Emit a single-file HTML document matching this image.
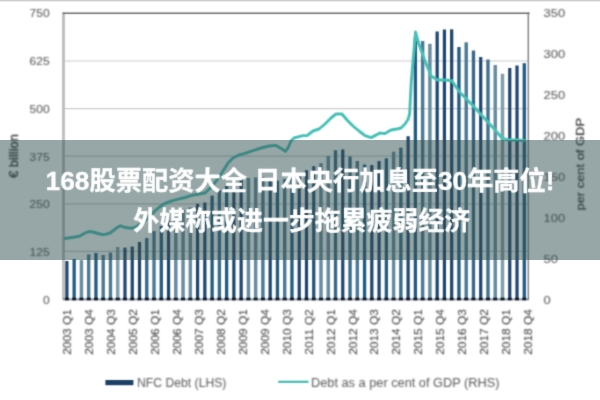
<!DOCTYPE html>
<html><head><meta charset="utf-8"><title>chart</title>
<style>
html,body{margin:0;padding:0;background:#fff;}
#wrap{position:relative;width:600px;height:400px;overflow:hidden;background:#fff;font-family:"Liberation Sans",sans-serif;}
#wrap svg{position:absolute;left:0;top:0;}
#banner{position:absolute;left:0;top:140px;width:600px;height:120px;background:rgba(47,79,79,0.5);}
</style></head><body>
<div id="wrap">
<svg width="600" height="400" viewBox="0 0 600 400">
<defs>
<filter id="b1" x="-5%" y="-5%" width="110%" height="110%" color-interpolation-filters="sRGB"><feConvolveMatrix order="5" kernelMatrix="0.00001 0.00042 0.00170 0.00042 0.00001 0.00042 0.02740 0.10988 0.02740 0.00042 0.00170 0.10988 0.44065 0.10988 0.00170 0.00042 0.02740 0.10988 0.02740 0.00042 0.00001 0.00042 0.00170 0.00042 0.00001" edgeMode="none" preserveAlpha="false"/></filter>
<filter id="b2" x="-5%" y="-5%" width="110%" height="110%" color-interpolation-filters="sRGB"><feConvolveMatrix order="5" kernelMatrix="0.00087 0.00695 0.01388 0.00695 0.00087 0.00695 0.05540 0.11068 0.05540 0.00695 0.01388 0.11068 0.22111 0.11068 0.01388 0.00695 0.05540 0.11068 0.05540 0.00695 0.00087 0.00695 0.01388 0.00695 0.00087" edgeMode="none" preserveAlpha="false"/></filter>
</defs>
<rect x="0" y="0" width="600" height="1.4" fill="#cdcdcd"/>
<g filter="url(#b1)"><line x1="64" x2="529" y1="251.4" y2="251.4" stroke="#cccccc" stroke-width="1.2"/><line x1="64" x2="529" y1="203.8" y2="203.8" stroke="#cccccc" stroke-width="1.2"/><line x1="64" x2="529" y1="156.2" y2="156.2" stroke="#cccccc" stroke-width="1.2"/><line x1="64" x2="529" y1="108.6" y2="108.6" stroke="#cccccc" stroke-width="1.2"/><line x1="64" x2="529" y1="61.0" y2="61.0" stroke="#cccccc" stroke-width="1.2"/><rect x="65.30" y="261.0" width="3.20" height="38.0" fill="#1e446e"/><rect x="72.51" y="259.0" width="3.30" height="40.0" fill="#215a80"/><rect x="79.70" y="260.0" width="3.45" height="39.0" fill="#668ba0"/><rect x="86.98" y="254.4" width="3.40" height="44.6" fill="#4b7893"/><rect x="94.29" y="253.0" width="3.30" height="46.0" fill="#215a80"/><rect x="101.50" y="255.0" width="3.40" height="44.0" fill="#4b7893"/><rect x="108.76" y="252.6" width="3.40" height="46.4" fill="#4b7893"/><rect x="115.97" y="247.0" width="3.50" height="52.0" fill="#829eac"/><rect x="123.38" y="247.6" width="3.20" height="51.4" fill="#1e446e"/><rect x="130.64" y="246.6" width="3.20" height="52.4" fill="#1e446e"/><rect x="137.90" y="242.0" width="3.20" height="57.0" fill="#1e446e"/><rect x="145.08" y="238.0" width="3.35" height="61.0" fill="#36698a"/><rect x="152.32" y="231.0" width="3.40" height="68.0" fill="#4b7893"/><rect x="159.63" y="226.0" width="3.30" height="73.0" fill="#215a80"/><rect x="166.94" y="221.0" width="3.20" height="78.0" fill="#1e446e"/><rect x="174.08" y="215.5" width="3.45" height="83.5" fill="#668ba0"/><rect x="181.34" y="209.5" width="3.45" height="89.5" fill="#668ba0"/><rect x="188.59" y="207.5" width="3.45" height="91.5" fill="#668ba0"/><rect x="195.98" y="203.8" width="3.20" height="95.2" fill="#1e446e"/><rect x="203.24" y="202.5" width="3.20" height="96.5" fill="#1e446e"/><rect x="210.45" y="195.6" width="3.30" height="103.4" fill="#215a80"/><rect x="217.69" y="190.0" width="3.35" height="109.0" fill="#36698a"/><rect x="224.97" y="186.0" width="3.30" height="113.0" fill="#215a80"/><rect x="232.28" y="182.0" width="3.20" height="117.0" fill="#1e446e"/><rect x="239.54" y="179.5" width="3.20" height="119.5" fill="#1e446e"/><rect x="246.68" y="178.0" width="3.45" height="121.0" fill="#668ba0"/><rect x="253.94" y="177.4" width="3.45" height="121.6" fill="#668ba0"/><rect x="261.22" y="177.0" width="3.40" height="122.0" fill="#4b7893"/><rect x="268.58" y="179.0" width="3.20" height="120.0" fill="#1e446e"/><rect x="275.79" y="180.7" width="3.30" height="118.3" fill="#215a80"/><rect x="283.00" y="179.0" width="3.40" height="120.0" fill="#4b7893"/><rect x="290.31" y="177.0" width="3.30" height="122.0" fill="#215a80"/><rect x="297.62" y="174.0" width="3.20" height="125.0" fill="#1e446e"/><rect x="304.88" y="170.2" width="3.20" height="128.8" fill="#1e446e"/><rect x="312.12" y="166.2" width="3.25" height="132.8" fill="#204f77"/><rect x="319.27" y="163.2" width="3.45" height="135.8" fill="#668ba0"/><rect x="326.53" y="156.0" width="3.45" height="143.0" fill="#668ba0"/><rect x="333.84" y="150.3" width="3.35" height="148.7" fill="#36698a"/><rect x="341.18" y="149.5" width="3.20" height="149.5" fill="#1e446e"/><rect x="348.36" y="156.5" width="3.35" height="142.5" fill="#36698a"/><rect x="355.60" y="161.0" width="3.40" height="138.0" fill="#4b7893"/><rect x="362.91" y="164.5" width="3.30" height="134.5" fill="#215a80"/><rect x="370.22" y="165.0" width="3.20" height="134.0" fill="#1e446e"/><rect x="377.48" y="161.0" width="3.20" height="138.0" fill="#1e446e"/><rect x="384.69" y="158.3" width="3.30" height="140.7" fill="#215a80"/><rect x="391.88" y="151.7" width="3.45" height="147.3" fill="#668ba0"/><rect x="399.19" y="147.7" width="3.35" height="151.3" fill="#36698a"/><rect x="406.52" y="136.2" width="3.20" height="162.8" fill="#1e446e"/><rect x="413.73" y="38.0" width="3.30" height="261.0" fill="#215a80"/><rect x="420.94" y="41.0" width="3.40" height="258.0" fill="#4b7893"/><rect x="428.17" y="43.8" width="3.45" height="255.2" fill="#668ba0"/><rect x="435.56" y="31.5" width="3.20" height="267.5" fill="#1e446e"/><rect x="442.82" y="29.5" width="3.20" height="269.5" fill="#1e446e"/><rect x="450.08" y="29.3" width="3.20" height="269.7" fill="#1e446e"/><rect x="457.29" y="47.0" width="3.30" height="252.0" fill="#215a80"/><rect x="464.50" y="42.3" width="3.40" height="256.7" fill="#4b7893"/><rect x="471.79" y="50.5" width="3.35" height="248.5" fill="#36698a"/><rect x="479.12" y="57.0" width="3.20" height="242.0" fill="#1e446e"/><rect x="486.29" y="59.5" width="3.38" height="239.5" fill="#40708e"/><rect x="493.51" y="65.0" width="3.45" height="234.0" fill="#668ba0"/><rect x="500.75" y="73.8" width="3.50" height="225.2" fill="#829eac"/><rect x="508.16" y="68.0" width="3.20" height="231.0" fill="#1e446e"/><rect x="515.42" y="65.5" width="3.20" height="233.5" fill="#1e446e"/><rect x="522.63" y="63.2" width="3.30" height="235.8" fill="#215a80"/><line x1="63.5" x2="63.5" y1="12.5" y2="299.0" stroke="#bcbcbc" stroke-width="2.8"/><line x1="528.3" x2="528.3" y1="12.5" y2="299.0" stroke="#8c8c8c" stroke-width="1.6"/><line x1="62.7" x2="529.6" y1="13.3" y2="13.3" stroke="#6a6a6a" stroke-width="1.6"/><line x1="62.7" x2="529" y1="299.3" y2="299.3" stroke="#10182c" stroke-width="2.2" stroke-opacity="0.4"/><rect x="65.00" y="297.7" width="3.80" height="2.6" fill="#0c1728"/><rect x="72.21" y="297.7" width="3.90" height="2.6" fill="#0c1728"/><rect x="79.40" y="297.7" width="4.05" height="2.6" fill="#0c1728"/><rect x="86.68" y="297.7" width="4.00" height="2.6" fill="#0c1728"/><rect x="93.99" y="297.7" width="3.90" height="2.6" fill="#0c1728"/><rect x="101.20" y="297.7" width="4.00" height="2.6" fill="#0c1728"/><rect x="108.46" y="297.7" width="4.00" height="2.6" fill="#0c1728"/><rect x="115.67" y="297.7" width="4.10" height="2.6" fill="#0c1728"/><rect x="123.08" y="297.7" width="3.80" height="2.6" fill="#0c1728"/><rect x="130.34" y="297.7" width="3.80" height="2.6" fill="#0c1728"/><rect x="137.60" y="297.7" width="3.80" height="2.6" fill="#0c1728"/><rect x="144.78" y="297.7" width="3.95" height="2.6" fill="#0c1728"/><rect x="152.02" y="297.7" width="4.00" height="2.6" fill="#0c1728"/><rect x="159.33" y="297.7" width="3.90" height="2.6" fill="#0c1728"/><rect x="166.64" y="297.7" width="3.80" height="2.6" fill="#0c1728"/><rect x="173.78" y="297.7" width="4.05" height="2.6" fill="#0c1728"/><rect x="181.03" y="297.7" width="4.05" height="2.6" fill="#0c1728"/><rect x="188.29" y="297.7" width="4.05" height="2.6" fill="#0c1728"/><rect x="195.68" y="297.7" width="3.80" height="2.6" fill="#0c1728"/><rect x="202.94" y="297.7" width="3.80" height="2.6" fill="#0c1728"/><rect x="210.15" y="297.7" width="3.90" height="2.6" fill="#0c1728"/><rect x="217.38" y="297.7" width="3.95" height="2.6" fill="#0c1728"/><rect x="224.67" y="297.7" width="3.90" height="2.6" fill="#0c1728"/><rect x="231.98" y="297.7" width="3.80" height="2.6" fill="#0c1728"/><rect x="239.24" y="297.7" width="3.80" height="2.6" fill="#0c1728"/><rect x="246.38" y="297.7" width="4.05" height="2.6" fill="#0c1728"/><rect x="253.63" y="297.7" width="4.05" height="2.6" fill="#0c1728"/><rect x="260.92" y="297.7" width="4.00" height="2.6" fill="#0c1728"/><rect x="268.28" y="297.7" width="3.80" height="2.6" fill="#0c1728"/><rect x="275.49" y="297.7" width="3.90" height="2.6" fill="#0c1728"/><rect x="282.70" y="297.7" width="4.00" height="2.6" fill="#0c1728"/><rect x="290.01" y="297.7" width="3.90" height="2.6" fill="#0c1728"/><rect x="297.32" y="297.7" width="3.80" height="2.6" fill="#0c1728"/><rect x="304.58" y="297.7" width="3.80" height="2.6" fill="#0c1728"/><rect x="311.81" y="297.7" width="3.85" height="2.6" fill="#0c1728"/><rect x="318.97" y="297.7" width="4.05" height="2.6" fill="#0c1728"/><rect x="326.23" y="297.7" width="4.05" height="2.6" fill="#0c1728"/><rect x="333.54" y="297.7" width="3.95" height="2.6" fill="#0c1728"/><rect x="340.88" y="297.7" width="3.80" height="2.6" fill="#0c1728"/><rect x="348.06" y="297.7" width="3.95" height="2.6" fill="#0c1728"/><rect x="355.30" y="297.7" width="4.00" height="2.6" fill="#0c1728"/><rect x="362.61" y="297.7" width="3.90" height="2.6" fill="#0c1728"/><rect x="369.92" y="297.7" width="3.80" height="2.6" fill="#0c1728"/><rect x="377.18" y="297.7" width="3.80" height="2.6" fill="#0c1728"/><rect x="384.39" y="297.7" width="3.90" height="2.6" fill="#0c1728"/><rect x="391.57" y="297.7" width="4.05" height="2.6" fill="#0c1728"/><rect x="398.88" y="297.7" width="3.95" height="2.6" fill="#0c1728"/><rect x="406.22" y="297.7" width="3.80" height="2.6" fill="#0c1728"/><rect x="413.43" y="297.7" width="3.90" height="2.6" fill="#0c1728"/><rect x="420.64" y="297.7" width="4.00" height="2.6" fill="#0c1728"/><rect x="427.87" y="297.7" width="4.05" height="2.6" fill="#0c1728"/><rect x="435.26" y="297.7" width="3.80" height="2.6" fill="#0c1728"/><rect x="442.52" y="297.7" width="3.80" height="2.6" fill="#0c1728"/><rect x="449.78" y="297.7" width="3.80" height="2.6" fill="#0c1728"/><rect x="456.99" y="297.7" width="3.90" height="2.6" fill="#0c1728"/><rect x="464.20" y="297.7" width="4.00" height="2.6" fill="#0c1728"/><rect x="471.49" y="297.7" width="3.95" height="2.6" fill="#0c1728"/><rect x="478.82" y="297.7" width="3.80" height="2.6" fill="#0c1728"/><rect x="485.99" y="297.7" width="3.98" height="2.6" fill="#0c1728"/><rect x="493.21" y="297.7" width="4.05" height="2.6" fill="#0c1728"/><rect x="500.45" y="297.7" width="4.10" height="2.6" fill="#0c1728"/><rect x="507.86" y="297.7" width="3.80" height="2.6" fill="#0c1728"/><rect x="515.12" y="297.7" width="3.80" height="2.6" fill="#0c1728"/><rect x="522.33" y="297.7" width="3.90" height="2.6" fill="#0c1728"/><polyline points="65.0,238.5 70.0,237.8 75.0,237.0 80.0,236.0 85.0,233.0 89.0,231.5 93.0,232.0 98.0,233.5 102.0,234.5 106.0,234.2 110.0,233.0 114.0,230.0 118.0,226.8 120.5,225.8 125.0,227.5 131.7,228.3 137.0,226.5 143.0,222.0 150.8,215.8 155.0,210.8 160.0,206.7 165.0,203.3 171.7,200.8 178.3,199.2 185.0,197.5 191.7,195.3 198.3,194.2 205.0,193.0 211.0,187.4 217.0,180.0 223.0,171.0 228.0,163.0 233.0,158.0 239.0,155.0 245.0,153.4 253.0,150.6 261.0,148.0 269.0,146.0 276.0,145.4 282.0,149.0 285.4,151.4 288.0,148.0 291.0,141.0 294.0,138.0 299.0,136.6 303.0,135.6 307.0,135.6 313.0,131.0 319.0,129.0 325.0,124.0 331.0,118.0 336.0,114.0 342.0,114.0 347.0,120.0 353.0,126.0 359.0,131.0 365.0,135.6 371.0,137.6 375.0,135.6 380.0,133.0 385.0,133.6 391.0,130.0 397.0,129.0 401.0,128.0 405.0,124.0 408.0,119.5 409.6,114.0 411.2,82.5 413.8,52.5 415.5,32.0 418.8,43.8 425.0,61.0 431.2,76.0 437.5,80.0 445.0,80.0 451.8,80.8 460.0,92.5 466.2,98.8 473.8,106.5 481.0,114.5 488.2,122.5 495.2,130.0 502.5,138.8 510.0,140.0 517.0,140.0 524.2,140.5" fill="none" stroke="#46c0b6" stroke-width="2.9" stroke-linejoin="round" stroke-linecap="round"/><rect x="105.4" y="380" width="28" height="5.2" fill="#1c3f66"/><line x1="278.2" x2="308.5" y1="381.8" y2="381.8" stroke="#45b9b0" stroke-width="2.2"/></g>
<g filter="url(#b2)" font-family="Liberation Sans, sans-serif" font-size="11.5" fill="#333333"><text fill="#4c4c4c" x="42.9" y="304.1" textLength="6.7" lengthAdjust="spacingAndGlyphs">0</text><text fill="#4c4c4c" x="29.5" y="256.3" textLength="20.1" lengthAdjust="spacingAndGlyphs">125</text><text fill="#4c4c4c" x="29.5" y="208.4" textLength="20.1" lengthAdjust="spacingAndGlyphs">250</text><text fill="#4c4c4c" x="29.5" y="160.6" textLength="20.1" lengthAdjust="spacingAndGlyphs">375</text><text fill="#4c4c4c" x="29.5" y="112.8" textLength="20.1" lengthAdjust="spacingAndGlyphs">500</text><text fill="#4c4c4c" x="29.5" y="65.0" textLength="20.1" lengthAdjust="spacingAndGlyphs">625</text><text fill="#4c4c4c" x="29.5" y="17.1" textLength="20.1" lengthAdjust="spacingAndGlyphs">750</text><text fill="#4c4c4c" x="543.6" y="303.8" textLength="7.2" lengthAdjust="spacingAndGlyphs">0</text><text fill="#4c4c4c" x="543.6" y="262.8" textLength="14.4" lengthAdjust="spacingAndGlyphs">50</text><text fill="#4c4c4c" x="543.6" y="221.8" textLength="21.6" lengthAdjust="spacingAndGlyphs">100</text><text fill="#4c4c4c" x="543.6" y="180.8" textLength="21.6" lengthAdjust="spacingAndGlyphs">150</text><text fill="#4c4c4c" x="543.6" y="139.8" textLength="21.6" lengthAdjust="spacingAndGlyphs">200</text><text fill="#4c4c4c" x="543.6" y="98.8" textLength="21.6" lengthAdjust="spacingAndGlyphs">250</text><text fill="#4c4c4c" x="543.6" y="57.8" textLength="21.6" lengthAdjust="spacingAndGlyphs">300</text><text fill="#4c4c4c" x="543.6" y="16.8" textLength="21.6" lengthAdjust="spacingAndGlyphs">350</text><text transform="translate(70.90,354.8) rotate(-90)" textLength="45.6" lengthAdjust="spacingAndGlyphs">2003 Q1</text><text transform="translate(92.87,354.8) rotate(-90)" textLength="45.6" lengthAdjust="spacingAndGlyphs">2003 Q4</text><text transform="translate(114.84,354.8) rotate(-90)" textLength="45.6" lengthAdjust="spacingAndGlyphs">2004 Q3</text><text transform="translate(136.81,354.8) rotate(-90)" textLength="45.6" lengthAdjust="spacingAndGlyphs">2005 Q2</text><text transform="translate(158.78,354.8) rotate(-90)" textLength="45.6" lengthAdjust="spacingAndGlyphs">2006 Q1</text><text transform="translate(180.75,354.8) rotate(-90)" textLength="45.6" lengthAdjust="spacingAndGlyphs">2006 Q4</text><text transform="translate(202.72,354.8) rotate(-90)" textLength="45.6" lengthAdjust="spacingAndGlyphs">2007 Q3</text><text transform="translate(224.69,354.8) rotate(-90)" textLength="45.6" lengthAdjust="spacingAndGlyphs">2008 Q2</text><text transform="translate(246.66,354.8) rotate(-90)" textLength="45.6" lengthAdjust="spacingAndGlyphs">2009 Q1</text><text transform="translate(268.63,354.8) rotate(-90)" textLength="45.6" lengthAdjust="spacingAndGlyphs">2009 Q4</text><text transform="translate(290.60,354.8) rotate(-90)" textLength="45.6" lengthAdjust="spacingAndGlyphs">2010 Q3</text><text transform="translate(312.57,354.8) rotate(-90)" textLength="45.6" lengthAdjust="spacingAndGlyphs">2011 Q2</text><text transform="translate(334.54,354.8) rotate(-90)" textLength="45.6" lengthAdjust="spacingAndGlyphs">2012 Q1</text><text transform="translate(356.51,354.8) rotate(-90)" textLength="45.6" lengthAdjust="spacingAndGlyphs">2012 Q4</text><text transform="translate(378.48,354.8) rotate(-90)" textLength="45.6" lengthAdjust="spacingAndGlyphs">2013 Q3</text><text transform="translate(400.45,354.8) rotate(-90)" textLength="45.6" lengthAdjust="spacingAndGlyphs">2014 Q2</text><text transform="translate(422.42,354.8) rotate(-90)" textLength="45.6" lengthAdjust="spacingAndGlyphs">2015 Q1</text><text transform="translate(444.39,354.8) rotate(-90)" textLength="45.6" lengthAdjust="spacingAndGlyphs">2015 Q4</text><text transform="translate(466.36,354.8) rotate(-90)" textLength="45.6" lengthAdjust="spacingAndGlyphs">2016 Q3</text><text transform="translate(488.33,354.8) rotate(-90)" textLength="45.6" lengthAdjust="spacingAndGlyphs">2017 Q2</text><text transform="translate(510.30,354.8) rotate(-90)" textLength="45.6" lengthAdjust="spacingAndGlyphs">2018 Q1</text><text transform="translate(532.27,354.8) rotate(-90)" textLength="45.6" lengthAdjust="spacingAndGlyphs">2018 Q4</text><text transform="translate(18.2,178) rotate(-90)" textLength="44" lengthAdjust="spacingAndGlyphs" font-size="12" stroke="#383838" stroke-width="0.35">€ billion</text><text transform="translate(583.6,210.5) rotate(-90)" textLength="92.5" lengthAdjust="spacingAndGlyphs" font-size="11.5" stroke="#383838" stroke-width="0.25">per cent of GDP</text><text fill="#585858" x="137" y="386.6" textLength="89.4" lengthAdjust="spacingAndGlyphs" font-size="12">NFC Debt (LHS)</text><text fill="#585858" x="311" y="386.6" textLength="188.5" lengthAdjust="spacingAndGlyphs" font-size="12">Debt as a per cent of GDP (RHS)</text></g>
</svg>
<div id="banner"></div>
<svg width="600" height="400" viewBox="0 0 600 400">
<defs><filter id="b3" x="-5%" y="-5%" width="110%" height="110%" color-interpolation-filters="sRGB"><feConvolveMatrix order="5" kernelMatrix="0.00000 0.00003 0.00021 0.00003 0.00000 0.00003 0.01133 0.08373 0.01133 0.00003 0.00021 0.08373 0.61869 0.08373 0.00021 0.00003 0.01133 0.08373 0.01133 0.00003 0.00000 0.00003 0.00021 0.00003 0.00000" edgeMode="none" preserveAlpha="false"/></filter></defs>
<g fill="#fff" stroke="#fff" stroke-width="0.3" stroke-linejoin="round" filter="url(#b3)" font-family="Liberation Sans, Noto Sans CJK SC, sans-serif" font-size="26" font-weight="bold"><text x="45.6" y="190.1" textLength="509" lengthAdjust="spacingAndGlyphs">168股票配资大全 日本央行加息至30年高位!</text><text x="133.3" y="230.3" textLength="337" lengthAdjust="spacingAndGlyphs">外媒称或进一步拖累疲弱经济</text></g>
</svg>
</div>
</body></html>
